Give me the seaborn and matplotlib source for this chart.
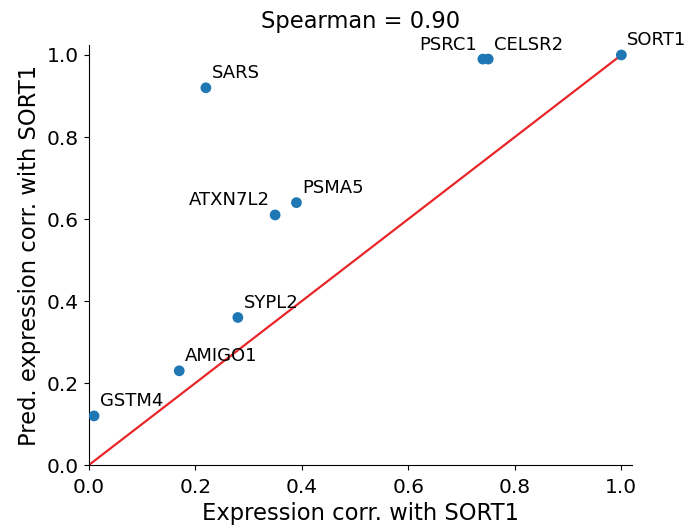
import matplotlib
matplotlib.use("Agg")
import matplotlib.pyplot as plt
import seaborn as sns
import pandas as pd

genes = ["GSTM4", "AMIGO1", "SYPL2", "ATXN7L2", "PSMA5", "SARS", "PSRC1", "CELSR2", "SORT1"]
expr_corr = [0.01, 0.17, 0.28, 0.35, 0.39, 0.22, 0.74, 0.75, 1.00]
pred_corr = [0.12, 0.23, 0.36, 0.61, 0.64, 0.92, 0.99, 0.99, 1.00]
left_labels = ["ATXN7L2", "PSRC1"]
diag = [0.0, 1.0]

df = pd.DataFrame({"gene": genes, "expr": expr_corr, "pred": pred_corr})

sns.set_style("ticks")
plt.rcParams["font.family"] = ["DejaVu Sans"]
plt.rcParams.update({
    "text.color": "black",
    "axes.labelcolor": "black",
    "axes.edgecolor": "black",
    "xtick.color": "black",
    "ytick.color": "black",
})

fig = plt.figure(figsize=(6.93, 5.31), dpi=100)
ax = fig.add_axes([0.128, 0.124, 0.784, 0.791])

sns.lineplot(x=diag, y=diag, color="#e8262a", linewidth=1.6, ax=ax)
sns.scatterplot(data=df, x="expr", y="pred", color="#1f77b4", s=60,
                edgecolor="none", ax=ax, zorder=3)

for g, x, y in zip(genes, expr_corr, pred_corr):
    if g in left_labels:
        ax.annotate(g, (x, y), xytext=(-4, 4), textcoords="offset points",
                    ha="right", va="bottom", fontsize=13)
    else:
        ax.annotate(g, (x, y), xytext=(4, 4), textcoords="offset points",
                    ha="left", va="bottom", fontsize=13)

ax.set_xlim(0, 1.02)
ax.set_ylim(0, 1.024)
ax.set_xticks([0.0, 0.2, 0.4, 0.6, 0.8, 1.0])
ax.set_yticks([0.0, 0.2, 0.4, 0.6, 0.8, 1.0])
ax.tick_params(labelsize=14.5)
ax.tick_params(axis="x", pad=5.5)
ax.set_xlabel("Expression corr. with SORT1", fontsize=16.3, labelpad=4)
ax.set_ylabel("Pred. expression corr. with SORT1", fontsize=16.3, labelpad=4)
ax.set_title("Spearman = 0.90", fontsize=16.3, pad=12)
sns.despine(ax=ax)

fig.savefig("out.png", dpi=100)
